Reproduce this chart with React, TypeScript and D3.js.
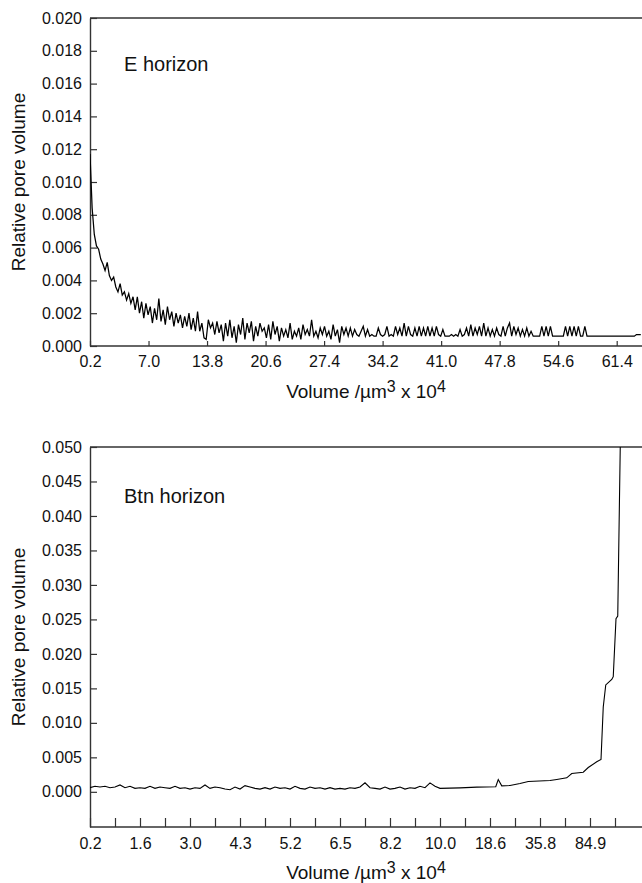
import React, { useEffect, useRef } from 'react';
import * as d3 from 'd3';

const W = 642;
const H = 883;
const font = 'Liberation Sans, Arial, Helvetica, sans-serif';

// E horizon: relative pore volume (x 1e-4) per volume bin, bins 0.25 wide starting at 0.2 (um3 x 10^4)
const eBinStart = 0.2;
const eBinWidth = 0.25;
const eRelVolume = [
  117, 84, 68, 61, 59, 53, 50, 46, 51, 43, 40,
  42, 36, 33, 38, 31, 33, 28, 32, 26, 30,
  22, 30, 20, 27, 17, 26, 19, 24, 14, 23,
  16, 29, 15, 22, 13, 24, 16, 21, 12, 20,
  14, 19, 11, 18, 12, 20, 10, 17, 9, 21,
  9, 14, 5, 4, 16, 11, 14, 7, 15, 8,
  13, 3, 14, 6, 16, 5, 12, 2, 13, 7,
  17, 4, 14, 8, 15, 3, 12, 6, 14, 9,
  11, 5, 13, 4, 15, 7, 12, 3, 11, 6,
  10, 5, 14, 4, 9, 6, 11, 4, 13, 7,
  10, 6, 16, 6, 9, 5, 11, 7, 12, 6,
  9, 4, 13, 6, 10, 2, 12, 7, 11, 6,
  11, 6, 10, 7, 6, 9, 12, 6, 10, 6,
  7, 6, 6, 11, 7, 6, 7, 12, 6, 7,
  6, 12, 7, 11, 6, 14, 6, 12, 7, 6,
  11, 6, 12, 6, 11, 6, 12, 6, 11, 6,
  12, 7, 6, 10, 6, 6, 6, 7, 6, 7,
  6, 10, 6, 7, 11, 6, 13, 6, 11, 7,
  12, 6, 14, 6, 11, 6, 10, 6, 11, 7,
  6, 12, 6, 11, 14, 6, 12, 7, 11, 6,
  10, 6, 11, 6, 9, 6, 6, 6, 6, 12,
  6, 12, 6, 12, 6, 6, 6, 6, 6, 6,
  12, 6, 12, 6, 12, 6, 12, 6, 6, 12,
  6, 6, 6, 6, 6, 6, 6, 6, 6, 6,
  6, 6, 6, 6, 6, 6, 6, 6, 6, 6,
  6, 6, 6, 7, 7, 7
];
const eXTicks = [0.2, 7.0, 13.8, 20.6, 27.4, 34.2, 41.0, 47.8, 54.6, 61.4];
const eYTicks = [0, 0.002, 0.004, 0.006, 0.008, 0.01, 0.012, 0.014, 0.016, 0.018, 0.02];

// Btn horizon: x is the position along its stepped volume axis (1 = one tick step)
const btnStep = 0.2;
const btnRelVolume = [
  6, 8, 7, 8, 6, 7, 10, 6, 8, 5, 6, 5, 8, 5, 7, 6, 5, 8, 5, 6,
  4, 6, 5, 10, 5, 7, 6, 4, 3, 7, 4, 9, 7, 5, 4, 6, 4, 7, 5, 6,
  4, 8, 5, 4, 7, 5, 6, 4, 6, 4, 5, 4, 6, 5, 7, 13, 6, 5, 4, 7,
  4, 5, 7, 4, 6, 5, 8, 6, 13, 8, 5
];
const btnTailPos = [14.8, 15.47, 16.23, 16.33, 16.47, 16.8, 17.2, 17.53, 18.4, 18.67, 19.07, 19.27,
  19.73, 19.93, 20.27, 20.44, 20.53, 20.63, 20.87, 20.93, 21.04, 21.11, 21.21];
const btnTailRelVolume = [5.8, 6.8, 7.3, 17.9, 8.7, 9.2, 12, 15, 16.4, 17.9, 20.3, 26.6,
  28.5, 35.3, 43.5, 46.9, 123, 155, 163, 167, 251, 255, 500];
const btnXLabels = ['0.2', '1.6', '3.0', '4.3', '5.2', '6.5', '8.2', '10.0', '18.6', '35.8', '84.9'];
const btnYTicks = [0, 0.005, 0.01, 0.015, 0.02, 0.025, 0.03, 0.035, 0.04, 0.045, 0.05];

type Pt = [number, number];

function drawPanel(svg: any, opts: any) {
  const { id, top, bottom, left, right, x, y, points, xAxis, yAxis, label, labelY, xPad, lineWidth } = opts;

  svg.append('clipPath').attr('id', id)
    .append('rect').attr('x', left).attr('y', top).attr('width', right - left).attr('height', bottom - top);

  // top border of the frame
  svg.append('line')
    .attr('x1', left).attr('x2', right + 5).attr('y1', top).attr('y2', top)
    .attr('stroke', '#333').attr('stroke-width', 1.4);

  const xg = svg.append('g').attr('transform', `translate(0,${bottom})`)
    .call(xAxis.tickSizeOuter(0).tickPadding(xPad));
  const yg = svg.append('g').attr('transform', `translate(${left},0)`)
    .call(yAxis.tickSizeOuter(0).tickPadding(8));

  [xg, yg].forEach(g => {
    g.attr('font-family', font).attr('font-size', 16);
    g.select('.domain').attr('stroke', '#333').attr('stroke-width', 1.4);
    g.selectAll('.tick line').attr('stroke', '#333').attr('stroke-width', 1.2);
    g.selectAll('.tick text').attr('fill', '#111');
  });
  xg.select('.domain').attr('d', `M${left},0H${right + 5}`);

  const line = d3.line<Pt>().x(d => x(d[0])).y(d => y(d[1]));
  svg.append('path')
    .datum(points)
    .attr('clip-path', `url(#${id})`)
    .attr('fill', 'none')
    .attr('stroke', '#000')
    .attr('stroke-width', lineWidth)
    .attr('d', line);

  svg.append('text')
    .attr('x', 124).attr('y', labelY)
    .attr('font-family', font).attr('font-size', 20).attr('fill', '#111')
    .text(label);

  svg.append('text')
    .attr('transform', `translate(25,${(top + bottom) / 2}) rotate(-90)`)
    .attr('text-anchor', 'middle')
    .attr('font-family', font).attr('font-size', 19).attr('fill', '#111')
    .text('Relative pore volume');

  const t = svg.append('text')
    .attr('x', (left + right) / 2).attr('y', bottom + 52)
    .attr('text-anchor', 'middle')
    .attr('font-family', font).attr('font-size', 19).attr('fill', '#111');
  t.append('tspan').text('Volume /\u00b5m');
  t.append('tspan').attr('dy', -6).attr('font-size', 16).text('3');
  t.append('tspan').attr('dy', 6).text(' x 10');
  t.append('tspan').attr('dy', -6).attr('font-size', 16).text('4');
}

export default function App() {
  const ref = useRef<SVGSVGElement>(null);

  useEffect(() => {
    const svg = d3.select(ref.current);
    svg.selectAll('*').remove();

    // E horizon
    const ex = d3.scaleLinear().domain([0.2, 64.34]).range([90, 642]);
    const ey = d3.scaleLinear().domain([0, 0.02]).range([346, 18]);
    const ePoints: Pt[] = eRelVolume.map((v, i) => [eBinStart + i * eBinWidth, v * 1e-4]);
    drawPanel(svg, {
      id: 'clipE', top: 18, bottom: 346, left: 90, right: 642,
      x: ex, y: ey, points: ePoints, lineWidth: 1.25,
      xAxis: d3.axisBottom(ex).tickValues(eXTicks).tickSize(-5).tickFormat(d3.format('.1f')),
      yAxis: d3.axisLeft(ey).tickValues(eYTicks).tickSize(-7).tickFormat(d3.format('.3f')),
      label: 'E horizon', labelY: 71, xPad: 10
    });

    // Btn horizon
    const bx = d3.scaleLinear().domain([0, 22.08]).range([90, 642]);
    const by = d3.scaleLinear().domain([-0.0051, 0.05]).range([827, 447]);
    const bPoints: Pt[] = btnRelVolume.map((v, i) => [i * btnStep, v * 1e-4] as Pt)
      .concat(btnTailPos.map((p, i) => [p, btnTailRelVolume[i] * 1e-4] as Pt));
    drawPanel(svg, {
      id: 'clipB', top: 447, bottom: 827, left: 90, right: 642,
      x: bx, y: by, points: bPoints, lineWidth: 1.1,
      xAxis: d3.axisBottom(bx).tickValues(d3.range(0, 22)).tickSize(-9)
        .tickFormat((d: any) => (d % 2 === 0 ? btnXLabels[d / 2] : '')),
      yAxis: d3.axisLeft(by).tickValues(btnYTicks).tickSize(-7).tickFormat(d3.format('.3f')),
      label: 'Btn horizon', labelY: 503, xPad: 10.5
    });
  }, []);

  return (
    <svg ref={ref} width={W} height={H}
      style={{ position: 'absolute', left: 0, top: 0, background: '#fff' }} />
  );
}
